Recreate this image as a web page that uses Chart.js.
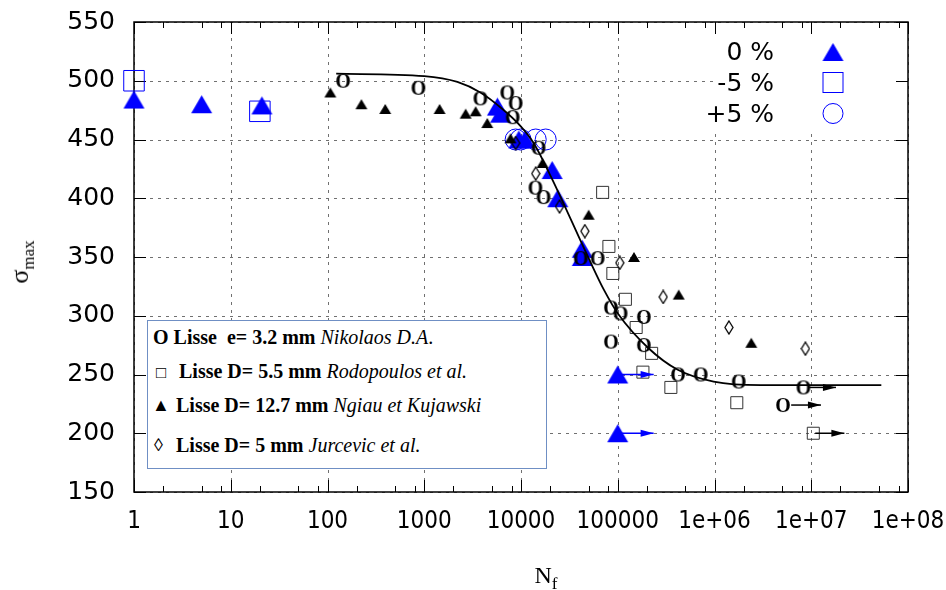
<!DOCTYPE html>
<html lang="fr">
<head>
<meta charset="UTF-8" />
<title>σmax en fonction de Nf</title>
<script src="https://cdn.jsdelivr.net/npm/chart.js"></script>
<style>
  body { margin: 0; background: #fff; }
  #wrap { position: relative; width: 946px; height: 590px; }
  #graphe { position: absolute; left: 0; top: 0; }
  .cadre { position: absolute; left: 147px; top: 320px; width: 398px; height: 147px;
           border: 1px solid #6f8fc4; background: #fff;
           font-family: "Liberation Serif", "Times New Roman", serif; font-size: 20px; line-height: 20px; color: #000; }
  .cadre div { position: absolute; white-space: nowrap; }
  .titre { position: absolute; font-family: "Liberation Serif", "Times New Roman", serif; color: #000; white-space: nowrap; }
  .titre sub { font-size: 17px; }
</style>
</head>
<body>
<div id="wrap">
  <canvas id="graphe" width="946" height="590"></canvas>

  <div class="titre" style="left:22px; top:262px; font-size:26px; transform: translate(-50%, -50%) rotate(-90deg);">σ<sub>max</sub></div>
  <div class="titre" style="left:546px; top:578px; font-size:24px; transform: translate(-50%, -50%);">N<sub>f</sub></div>

  <div class="cadre">
    <div style="left:5px; top:6px;"><b>O Lisse&nbsp; e= 3.2 mm</b> <i>Nikolaos D.A</i>.</div>
    <div style="left:8px; top:42px; font-size:17px;">□</div>
    <div style="left:31px; top:40px;"><b>Lisse D= 5.5 mm</b> <i>Rodopoulos et al.</i></div>
    <div style="left:4px; top:74px; font-size:18px;">▲</div>
    <div style="left:28px; top:74px;"><b>Lisse D= 12.7 mm</b> <i>Ngiau et Kujawski</i></div>
    <div style="left:6px; top:114px; font-size:18px;">◊</div>
    <div style="left:28px; top:114px;"><b>Lisse D= 5 mm</b> <i>Jurcevic et al.</i></div>
  </div>
</div>

<script>
// axes
const xTickValues = [1, 10, 100, 1000, 10000, 100000, 1e6, 1e7, 1e8];
const xTickLabels = ['1', '10', '100', '1000', '10000', '100000', '1e+06', '1e+07', '1e+08'];
const keyLabels = ['0 %', '-5 %', '+5 %'];

// essais 0 %, -5 %, +5 % (bleu)
const triN = [1, 5, 21, 5700, 6150, 9500, 11000, 21000, 24000, 43000, 43000, 100000, 100000];
const triS = [484, 480, 479, 478, 472, 450, 450, 424, 400, 357, 350, 250, 200];
const carN = [1, 20];
const carS = [500, 474];
const cerN = [8800, 9900, 14200, 18000];
const cerS = [450, 450, 450, 450];

// Nikolaos D.A.
const nikN = [145, 870, 3800, 7200, 8800, 8200, 15200, 14100, 17100, 41400, 62000, 85000, 107000,
              186000, 85000, 186000, 420000, 720000, 1780000, 8300000, 5100000];
const nikS = [500, 494, 485, 490, 481, 469, 443, 409, 401, 349, 349, 307, 302,
              299, 278, 275, 250, 250, 244, 239, 224];
// Rodopoulos et al.
const rodN = [69800, 81000, 89000, 120000, 155000, 224000, 182000, 354000, 1700000, 10500000];
const rodS = [405, 359, 336, 314, 290, 268, 252, 239, 226, 200];
// Ngiau et Kujawski
const ngiN = [107, 224, 395, 1440, 2680, 3400, 4480, 7800, 16700, 50000, 147000, 427000, 2400000];
const ngiS = [490, 480, 476, 476, 472, 474, 464, 451, 430, 386, 350, 318, 277];
// Jurcevic et al.
const jurN = [8800, 14200, 25000, 45700, 105000, 295000, 1410000, 8700000];
const jurS = [447, 421, 393, 372, 345, 316, 290, 272];

// courbe
const courbeN = [123, 1000, 2200, 3800, 6200, 10000, 13500, 20500, 50000, 72000, 102000, 204000, 417000, 980000, 3000000, 53000000];
const courbeS = [506, 504, 499, 490, 477, 461, 447, 418, 349, 322, 301, 273, 254, 244, 241, 241];

// flèches (essais non rompus)
const flecheDe = [100000, 100000, 9500000, 6200000, 11000000];
const flecheA = [235000, 235000, 18000000, 12600000, 22000000];
const flecheS = [250, 200, 239, 224, 200];
const flecheCouleur = ['#0000ff', '#0000ff', '#000', '#000', '#000'];

function pts(xs, ys) { return xs.map((v, i) => ({ x: v, y: ys[i] })); }

function triangle(w, h, color) {
  const c = document.createElement('canvas');
  c.width = w + 2; c.height = h + 2;
  const g = c.getContext('2d');
  g.fillStyle = color;
  g.beginPath(); g.moveTo(1, h + 1); g.lineTo(w + 1, h + 1); g.lineTo(w / 2 + 1, 1); g.closePath(); g.fill();
  return c;
}
function losange() {
  const c = document.createElement('canvas');
  c.width = 10; c.height = 15;
  const g = c.getContext('2d');
  g.strokeStyle = '#000'; g.lineWidth = 1.3;
  g.beginPath(); g.moveTo(5, 1); g.lineTo(9, 7.5); g.lineTo(5, 14); g.lineTo(1, 7.5); g.closePath(); g.stroke();
  return c;
}
function lettreO() {
  const c = document.createElement('canvas');
  c.width = 20; c.height = 18;
  const g = c.getContext('2d');
  g.fillStyle = '#000';
  g.font = 'bold 20px "Liberation Serif", serif';
  g.textAlign = 'center'; g.textBaseline = 'alphabetic';
  g.fillText('O', 10, 15.5);
  return c;
}

const triBleu = triangle(21, 18, '#0000ff');
const triNoir = triangle(12, 10, '#000');

function serie(data, style, extra) {
  return Object.assign({ data: data, showLine: false, pointStyle: style, clip: false, pointHoverRadius: 0 }, extra || {});
}

const datasets = [];
datasets.push({ data: pts(courbeN, courbeS), showLine: true, pointRadius: 0, borderColor: '#000',
  borderWidth: 1.8, cubicInterpolationMode: 'monotone', clip: false });
flecheDe.forEach((d, i) => {
  datasets.push({ data: [{ x: d, y: flecheS[i] }, { x: flecheA[i], y: flecheS[i] }], showLine: true,
    pointRadius: 0, borderColor: flecheCouleur[i], borderWidth: 1.5, clip: false, fleche: true });
});
datasets.push(serie(pts(nikN, nikS), lettreO()));
datasets.push(serie(pts(ngiN, ngiS), triNoir));
datasets.push(serie(pts(jurN, jurS), losange()));
datasets.push(serie(pts(rodN, rodS), 'rect', { pointRadius: 8.5, borderColor: '#333', borderWidth: 1, backgroundColor: 'rgba(0,0,0,0)' }));
datasets.push(serie(pts(triN, triS), triBleu));
datasets.push(serie(pts(carN, carS), 'rect', { pointRadius: 14.5, borderColor: '#0000ff', borderWidth: 1, backgroundColor: 'rgba(0,0,0,0)' }));
datasets.push(serie(pts(cerN, cerS), 'circle', { pointRadius: 10.5, borderColor: '#0000ff', borderWidth: 1, backgroundColor: 'rgba(0,0,0,0)' }));

const decor = {
  id: 'decor',
  beforeDatasetsDraw(chart) {
    const { ctx, chartArea: a, scales: { x, y } } = chart;
    ctx.save();
    // grille pointillée
    ctx.strokeStyle = '#707070';
    ctx.lineWidth = 1;
    ctx.setLineDash([3, 5]);
    ctx.beginPath();
    x.ticks.forEach(t => {
      const px = Math.round(x.getPixelForValue(t.value)) + 0.5;
      ctx.moveTo(px, a.top); ctx.lineTo(px, a.bottom);
    });
    y.ticks.forEach(t => {
      const py = Math.round(y.getPixelForValue(t.value)) + 0.5;
      ctx.moveTo(a.left, py); ctx.lineTo(a.right, py);
    });
    ctx.stroke();
    ctx.setLineDash([]);
    // fond de la clé
    ctx.fillStyle = '#fff';
    ctx.fillRect(713, a.top + 1, a.right - 714, 108);
    // graduations
    ctx.strokeStyle = '#000';
    ctx.beginPath();
    x.ticks.forEach((t, i) => {
      const vals = [[t.value, 12]];
      if (i < x.ticks.length - 1) [2, 5, 8].forEach(m => vals.push([t.value * m, 6]));
      vals.forEach(([v, len]) => {
        const px = Math.round(x.getPixelForValue(v)) + 0.5;
        ctx.moveTo(px, a.bottom); ctx.lineTo(px, a.bottom - len);
        ctx.moveTo(px, a.top); ctx.lineTo(px, a.top + len);
      });
    });
    y.ticks.forEach(t => {
      const py = Math.round(y.getPixelForValue(t.value)) + 0.5;
      ctx.moveTo(a.left, py); ctx.lineTo(a.left + 12, py);
      ctx.moveTo(a.right, py); ctx.lineTo(a.right - 12, py);
    });
    ctx.stroke();
    // cadre
    ctx.lineWidth = 1.5;
    ctx.strokeRect(a.left, a.top, a.right - a.left, a.bottom - a.top);
    ctx.restore();
  },
  afterDatasetsDraw(chart) {
    const { ctx } = chart;
    ctx.save();
    // pointes des flèches
    chart.data.datasets.forEach((ds, i) => {
      if (!ds.fleche) return;
      const p = chart.getDatasetMeta(i).data[1];
      ctx.fillStyle = ds.borderColor;
      ctx.beginPath();
      ctx.moveTo(p.x, p.y); ctx.lineTo(p.x - 13, p.y - 3.5); ctx.lineTo(p.x - 13, p.y + 3.5);
      ctx.closePath(); ctx.fill();
    });
    // clé en haut à droite
    ctx.fillStyle = '#000';
    ctx.font = '25px "DejaVu Sans", sans-serif';
    ctx.textAlign = 'right';
    ctx.textBaseline = 'alphabetic';
    const lignes = [60, 91, 122];
    keyLabels.forEach((t, i) => ctx.fillText(t, 774, lignes[i]));
    ctx.drawImage(triBleu, 833 - triBleu.width / 2, 52 - triBleu.height / 2);
    ctx.strokeStyle = '#0000ff';
    ctx.lineWidth = 1;
    ctx.strokeRect(823, 72.5, 20, 20);
    ctx.beginPath(); ctx.arc(833, 113.5, 10, 0, Math.PI * 2); ctx.stroke();
    ctx.restore();
  }
};

new Chart(document.getElementById('graphe'), {
  type: 'scatter',
  data: { datasets: datasets },
  options: {
    responsive: false,
    animation: false,
    events: [],
    layout: { padding: { left: 0, top: 22, right: 38, bottom: 0 } },
    plugins: { legend: { display: false }, tooltip: { enabled: false } },
    scales: {
      x: {
        type: 'logarithmic',
        min: 1,
        max: 1e8,
        afterBuildTicks: s => { s.ticks = xTickValues.map(v => ({ value: v })); },
        afterFit: s => { s.height = 98; s.paddingLeft = 0; s.paddingRight = 0; },
        grid: { display: false, drawTicks: false },
        border: { display: false },
        ticks: {
          autoSkip: false,
          maxRotation: 0,
          padding: 15,
          color: '#000',
          font: { family: '"DejaVu Sans Condensed", "DejaVu Sans", sans-serif', size: 24 },
          callback: (v, i) => xTickLabels[i]
        }
      },
      y: {
        min: 150,
        max: 550,
        afterFit: s => { s.width = 134; s.paddingTop = 0; s.paddingBottom = 0; },
        grid: { display: false, drawTicks: false },
        border: { display: false },
        ticks: {
          stepSize: 50,
          padding: 19,
          color: '#000',
          font: { family: '"DejaVu Sans", sans-serif', size: 25 }
        }
      }
    }
  },
  plugins: [decor]
});
</script>
</body>
</html>
